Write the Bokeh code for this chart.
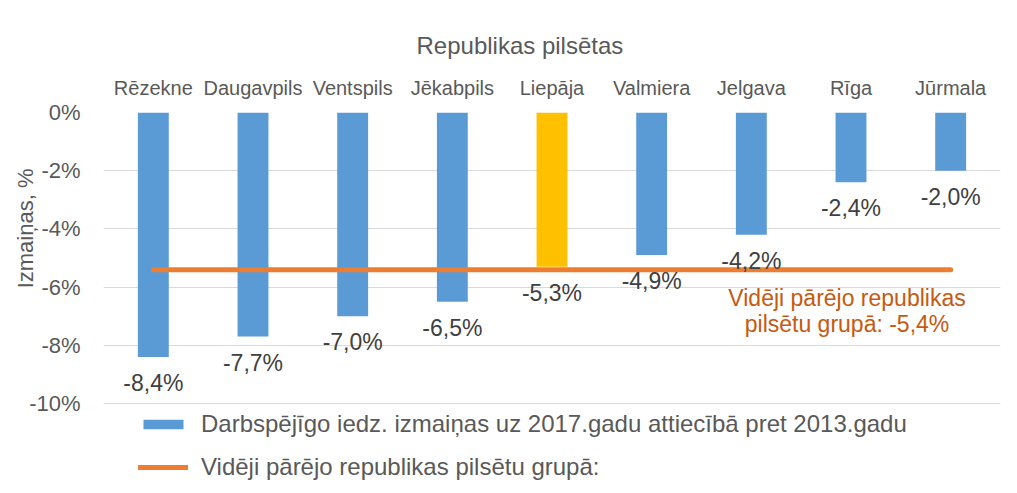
from bokeh.plotting import figure
from bokeh.models import (FactorRange, Range1d, FixedTicker, PrintfTickFormatter,
                          Legend, LegendItem, Label, Title, ColumnDataSource)
from bokeh.core.properties import value
from bokeh.embed import file_html
from bokeh.resources import INLINE

# ---- data ----
cities = ["Rēzekne", "Daugavpils", "Ventspils", "Jēkabpils", "Liepāja",
          "Valmiera", "Jelgava", "Rīga", "Jūrmala"]
change_pct = [-8.4, -7.7, -7.0, -6.5, -5.3, -4.9, -4.2, -2.4, -2.0]
group_avg = [-5.4, -5.4, -5.4, -5.4, -5.4, -5.4, -5.4, -5.4, -5.4]
y_ticks = [0, -2, -4, -6, -8, -10]
bar_label = "Darbspējīgo iedz. izmaiņas uz 2017.gadu attiecībā pret 2013.gadu"
line_label = "Vidēji pārējo republikas pilsētu grupā:"
note_lines = ["Vidēji pārējo republikas", "pilsētu grupā: -5,4%"]
title_text = "Republikas pilsētas"
y_title = "Izmaiņas, %"
highlight = "Liepāja"

BLUE = "#5B9BD5"
GOLD = "#FFC000"
ORANGE = "#ED7D31"
NOTE = "#C55A11"
GREY = "#595959"
DARK = "#404040"
FONT = "Liberation Sans"

colors = [GOLD if c == highlight else BLUE for c in cities]
labels = [f"{v:.1f}".replace(".", ",") + "%" for v in change_pct]

src = ColumnDataSource(dict(x=cities, top=[0] * len(cities), bottom=change_pct,
                            color=colors, label=labels, avg=group_avg))

# frame runs to the bottom of the canvas so the legend can sit inside it
p = figure(width=1017, height=493, x_range=FactorRange(*cities),
           y_range=Range1d(-13.09, 0), x_axis_location="above",
           output_backend="svg", toolbar_location=None,
           min_border_left=103, min_border_right=17,
           min_border_top=112, min_border_bottom=0)

p.title.text = title_text
p.title.text_font = FONT
p.title.text_font_size = "24px"
p.title.text_font_style = "normal"
p.title.text_color = GREY
p.title.align = "left"
p.title.offset = 313
p.title.standoff = 30

p.outline_line_color = None
p.xgrid.grid_line_color = None
p.ygrid.grid_line_color = "#D9D9D9"
p.ygrid.grid_line_width = 1

xa = p.xaxis[0]
xa.axis_line_color = None
xa.major_tick_line_color = None
xa.minor_tick_line_color = None
xa.major_label_text_font = FONT
xa.major_label_text_font_size = "20px"
xa.major_label_text_color = GREY
xa.major_label_standoff = 8

ya = p.yaxis[0]
ya.ticker = FixedTicker(ticks=y_ticks)
ya.formatter = PrintfTickFormatter(format="%d%%")
ya.axis_line_color = None
ya.major_tick_line_color = None
ya.minor_tick_line_color = None
ya.major_label_text_font = FONT
ya.major_label_text_font_size = "22px"
ya.major_label_text_color = GREY
ya.major_label_standoff = 17

p.add_layout(Title(text=y_title, align="right", offset=56, standoff=-22,
                   text_font=FONT, text_font_size="22px",
                   text_font_style="normal", text_color=GREY), "left")

bars = p.vbar(x="x", top="top", bottom="bottom", width=0.31, color="color",
              line_color=None, source=src)
avg_line = p.line(x="x", y="avg", line_width=5, line_color=ORANGE,
                  line_cap="round", source=src)

p.text(x="x", y="bottom", text="label", source=src, text_align="center",
       text_baseline="middle", y_offset=26, text_font_size="23px",
       text_color=DARK, text_font=value(FONT))

for i, t in enumerate(note_lines):
    p.add_layout(Label(x=7.46, y=-6.39 - 0.86 * i, text=t, text_align="center",
                       text_baseline="middle", text_font=FONT,
                       text_font_size="23px", text_color=NOTE))

legend = Legend(items=[LegendItem(label=bar_label, renderers=[bars]),
                       LegendItem(label=line_label, renderers=[avg_line])],
                location=(35, 12), orientation="vertical",
                glyph_width=50, glyph_height=12, label_standoff=13,
                label_text_font=FONT, label_text_font_size="24px",
                label_text_color=GREY, padding=11, margin=0, spacing=15,
                border_line_color=None, background_fill_alpha=0)
p.add_layout(legend, "center")

open("out.html", "w").write(file_html(p, INLINE))
